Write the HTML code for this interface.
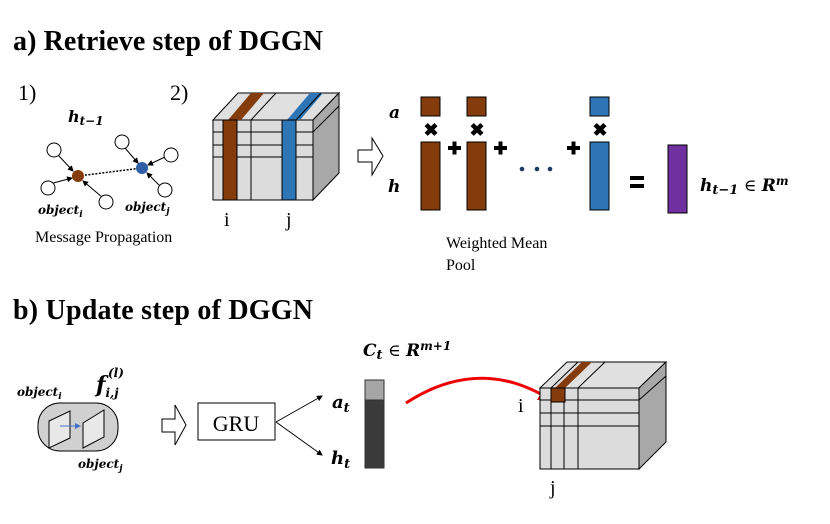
<!DOCTYPE html>
<html><head><meta charset="utf-8"><style>
body{margin:0;background:#fff}
svg text{font-family:"Liberation Serif",serif}
.m{font-family:"DejaVu Serif","Liberation Serif",serif;font-weight:bold;font-style:italic}
</style></head><body>
<svg width="830" height="519" viewBox="0 0 830 519" xmlns="http://www.w3.org/2000/svg">
<defs>
<marker id="ah" markerWidth="6" markerHeight="6" refX="5" refY="3" orient="auto"><path d="M0,0 L6,3 L0,6 z" fill="#000"/></marker>
<marker id="bh" markerWidth="6" markerHeight="6" refX="5" refY="3" orient="auto"><path d="M0,0 L6,3 L0,6 z" fill="#4472c4"/></marker>
<marker id="rh" markerWidth="5" markerHeight="5" refX="4" refY="2.5" orient="auto"><path d="M0,0 L5,2.5 L0,5 z" fill="#e00"/></marker>
</defs>
<text x="13" y="50" font-size="28" font-weight="bold" textLength="310">a) Retrieve step of  DGGN</text>
<text x="18" y="100" font-size="22">1)</text>
<text x="170" y="100" font-size="22">2)</text>
<text x="68" y="122" class="m" font-size="16">h<tspan font-size="12" dy="3">t−1</tspan></text>
<!-- graph -->
<g stroke="#000" stroke-width="1">
<line x1="78" y1="176" x2="142" y2="168" stroke-dasharray="2,1.5" stroke-width="1.5"/>
<line x1="58" y1="155" x2="73" y2="171" marker-end="url(#ah)"/>
<line x1="46" y1="185" x2="72" y2="178" marker-end="url(#ah)"/>
<line x1="102" y1="197" x2="83" y2="181" marker-end="url(#ah)"/>
<line x1="125" y1="148" x2="138" y2="163" marker-end="url(#ah)"/>
<line x1="165" y1="157" x2="148" y2="165" marker-end="url(#ah)"/>
<line x1="160" y1="186" x2="147" y2="173" marker-end="url(#ah)"/>
<g fill="#fff"><circle cx="54" cy="150" r="7"/><circle cx="48" cy="188" r="7"/><circle cx="106" cy="202" r="7"/><circle cx="122" cy="142" r="7"/><circle cx="171" cy="155" r="7"/><circle cx="165" cy="190" r="7"/></g>
</g>
<circle cx="78" cy="176" r="6" fill="#843c0c"/>
<circle cx="142" cy="168" r="6" fill="#2e5ea8"/>
<text x="38" y="214" class="m" font-size="12">object<tspan font-size="9" dy="3">i</tspan></text>
<text x="125" y="211" class="m" font-size="12">object<tspan font-size="9" dy="3">j</tspan></text>
<text x="35" y="242" font-size="16">Message Propagation</text>
<!-- cube a -->
<g stroke="#000" stroke-width="1">
<polygon points="213,120 238,93 339,93 313,120" fill="#e0e0e0"/>
<polygon points="313,120 339,93 339,173 313,200" fill="#a8a8a8"/>
<rect x="213" y="120" width="100" height="80" fill="#dcdcdc"/>
<polygon points="228,120 251,93 264,93 241,120" fill="#843c0c" stroke="none"/>
<polygon points="287,120 310,93 323,93 300,120" fill="#2e75b6" stroke="none"/>
<line x1="251" y1="120" x2="276" y2="93"/><line x1="296" y1="120" x2="321" y2="93"/>
<line x1="313" y1="132" x2="339" y2="106"/>
<line x1="213" y1="132" x2="313" y2="132"/><line x1="213" y1="145" x2="313" y2="145"/><line x1="213" y1="157" x2="313" y2="157"/>
<rect x="223" y="120" width="14" height="80" fill="#843c0c"/>
<line x1="251" y1="120" x2="251" y2="200"/>
<rect x="282" y="120" width="14" height="80" fill="#2e75b6"/>
</g>
<text x="224" y="226" font-size="20">i</text>
<text x="286" y="226" font-size="20">j</text>
<!-- hollow arrows -->
<polygon points="358,150 372,150 372,138 383,156 372,175 372,162 358,162" fill="#fff" stroke="#000"/>
<text x="389" y="118" class="m" font-size="17">a</text>
<text x="388" y="192" class="m" font-size="17">h</text>
<g stroke="#000"><rect x="421" y="97" width="19" height="19" fill="#843c0c"/><rect x="467" y="97" width="19" height="19" fill="#843c0c"/><rect x="590" y="97" width="19" height="19" fill="#2e75b6"/>
<rect x="421" y="142" width="19" height="68" fill="#843c0c"/><rect x="467" y="142" width="19" height="68" fill="#843c0c"/><rect x="590" y="142" width="19" height="68" fill="#2e75b6"/>
<rect x="668" y="145" width="19" height="68" fill="#7030a0"/></g>
<g font-family="DejaVu Sans" font-weight="bold" font-size="18" text-anchor="middle">
<text x="431" y="136">✖</text><text x="477" y="136">✖</text><text x="600" y="136">✖</text>
</g>
<g fill="#000"><rect x="448" y="146" width="13" height="4"/><rect x="452.5" y="141.5" width="4" height="13"/>
<rect x="494" y="146" width="13" height="4"/><rect x="498.5" y="141.5" width="4" height="13"/>
<rect x="567" y="146" width="13" height="4"/><rect x="571.5" y="141.5" width="4" height="13"/>
<rect x="630" y="176" width="14" height="4"/><rect x="630" y="184" width="14" height="4"/></g>
<g fill="#1f3864"><circle cx="522" cy="169" r="2.3"/><circle cx="537" cy="169" r="2.3"/><circle cx="550" cy="169" r="2.3"/></g>
<text x="700" y="191" class="m" font-size="17">h<tspan font-size="13" dy="3">t−1</tspan><tspan dy="-3" font-style="normal" font-weight="normal"> ∈ </tspan>R<tspan font-size="12" dy="-6">m</tspan></text>
<text x="446" y="248" font-size="16">Weighted Mean</text>
<text x="446" y="270" font-size="16">Pool</text>
<!-- b -->
<text x="13" y="319" font-size="28" font-weight="bold" textLength="300">b) Update step of DGGN</text>
<rect x="38" y="403" width="80" height="48" rx="22" fill="#d0d0d0" stroke="#000"/>
<polygon points="49,421 70,411 70,438 49,448" fill="#e8e8e8" stroke="#000"/>
<polygon points="83,423 104,410 104,437 83,448" fill="#e8e8e8" stroke="#000"/>
<line x1="60" y1="426" x2="80" y2="426" stroke="#4472c4" marker-end="url(#bh)"/>
<text x="17" y="396" class="m" font-size="12">object<tspan font-size="9" dy="3">i</tspan></text>
<text x="96" y="392" class="m" font-size="22">f<tspan font-size="12" dy="5">i,j</tspan></text>
<text x="108" y="377" class="m" font-size="12">(l)</text>
<text x="78" y="468" class="m" font-size="12">object<tspan font-size="9" dy="3">j</tspan></text>
<polygon points="162,419 175,419 175,405 186,425 175,445 175,432 162,432" fill="#fff" stroke="#000"/>
<rect x="198" y="403" width="77" height="37" fill="#fff" stroke="#000"/>
<text x="236" y="431" font-size="22" text-anchor="middle">GRU</text>
<line x1="276" y1="422" x2="322" y2="396" stroke="#000" marker-end="url(#ah)"/>
<line x1="276" y1="422" x2="322" y2="455" stroke="#000" marker-end="url(#ah)"/>
<text x="332" y="408" class="m" font-size="18">a<tspan font-size="13" dy="4">t</tspan></text>
<text x="331" y="464" class="m" font-size="18">h<tspan font-size="13" dy="4">t</tspan></text>
<rect x="365" y="380" width="19" height="20" fill="#a6a6a6" stroke="#333"/>
<rect x="365" y="400" width="19" height="68" fill="#3a3a3a" stroke="#333"/>
<text x="363" y="356" class="m" font-size="17">C<tspan font-size="13" dy="3">t</tspan><tspan dy="-3" font-style="normal" font-weight="normal"> ∈ </tspan>R<tspan font-size="12" dy="-6">m+1</tspan></text>
<path d="M406,403 Q480,355 551,400" fill="none" stroke="#e00" stroke-width="3" marker-end="url(#rh)"/>
<!-- cube b -->
<g stroke="#000" stroke-width="1">
<polygon points="540,388 567,362 666,362 639,388" fill="#e0e0e0"/>
<polygon points="639,388 666,362 666,442 639,469" fill="#a8a8a8"/>
<rect x="540" y="388" width="99" height="81" fill="#dcdcdc"/>
<polygon points="555,388 582,362 592,362 565,388" fill="#843c0c" stroke="none"/>
<line x1="551" y1="388" x2="578" y2="362"/><line x1="578" y1="388" x2="605" y2="362"/>
<line x1="639" y1="400" x2="666" y2="376"/>
<line x1="540" y1="400" x2="639" y2="400"/><line x1="540" y1="413" x2="639" y2="413"/><line x1="540" y1="426" x2="639" y2="426"/>
<line x1="551" y1="388" x2="551" y2="469"/><line x1="564" y1="388" x2="564" y2="469"/><line x1="578" y1="388" x2="578" y2="469"/>
<rect x="551" y="388" width="14" height="14" fill="#843c0c"/>
</g>
<text x="518" y="412" font-size="20">i</text>
<text x="550" y="494" font-size="20">j</text>
</svg>
</body></html>
